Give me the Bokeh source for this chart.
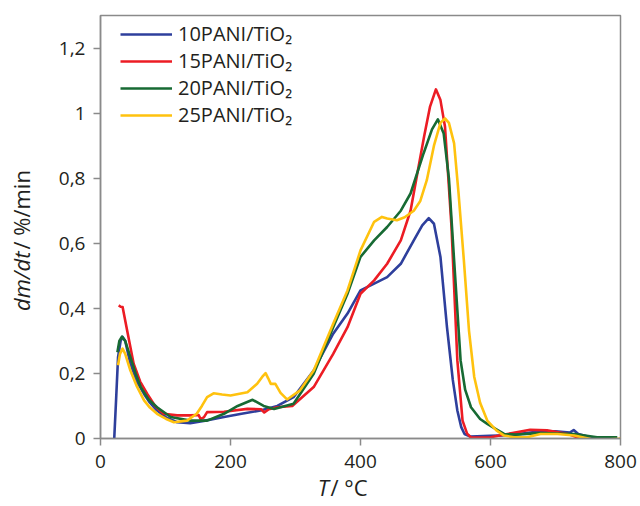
from bokeh.plotting import figure
from bokeh.models import (Range1d, FixedTicker, CustomJSTickFormatter, LinearAxis,
                          Legend, LegendItem)
from bokeh.embed import file_html
from bokeh.resources import INLINE

# ---------------- data ----------------
x_ticks = [0, 200, 400, 600, 800]
y_ticks = [0, 0.2, 0.4, 0.6, 0.8, 1.0, 1.2]

labels = ["10PANI/TiO\u2082", "15PANI/TiO\u2082", "20PANI/TiO\u2082", "25PANI/TiO\u2082"]

T_10 = [21, 24, 27, 31, 34, 38, 46, 56, 67, 76, 87, 101, 118, 138, 161, 190, 217, 246,
        272, 297, 328, 358, 380, 400, 421, 441, 462, 482, 495, 505, 513, 523, 533, 542,
        549, 555, 560, 569, 599, 626, 649, 677, 700, 722, 728, 735, 754, 775, 790, 800]
v_10 = [-0.006, 0.12, 0.25, 0.30, 0.312, 0.30, 0.23, 0.175, 0.137, 0.11, 0.086, 0.065,
        0.05, 0.047, 0.055, 0.066, 0.076, 0.086, 0.10, 0.127, 0.209, 0.322, 0.384, 0.455,
        0.476, 0.496, 0.537, 0.609, 0.655, 0.677, 0.66, 0.558, 0.343, 0.18, 0.086, 0.035,
        0.014, 0.006, 0.008, 0.01, 0.015, 0.022, 0.022, 0.018, 0.026, 0.014, 0.004, 0.0,
        -0.006, -0.004]

T_15 = [28, 31, 34, 41, 51, 61, 72, 84, 97, 118, 138, 151, 154, 159, 164, 190, 226, 247,
        252, 259, 272, 295, 328, 358, 380, 400, 421, 441, 462, 477, 487, 498, 507, 516,
        523, 530, 540, 549, 557, 564, 570, 600, 626, 661, 687, 719, 739, 769, 790, 800]
v_15 = [0.409, 0.405, 0.404, 0.332, 0.23, 0.175, 0.137, 0.10, 0.076, 0.071, 0.071, 0.072,
        0.06, 0.065, 0.081, 0.082, 0.091, 0.09, 0.08, 0.09, 0.096, 0.10, 0.158, 0.26,
        0.342, 0.445, 0.486, 0.537, 0.609, 0.70, 0.81, 0.93, 1.02, 1.073, 1.04, 0.958,
        0.65, 0.24, 0.055, 0.015, 0.003, 0.004, 0.014, 0.027, 0.025, 0.014, 0.0, -0.011,
        -0.006, -0.004]

T_20 = [26, 29, 33, 38, 46, 54, 62, 74, 87, 108, 138, 164, 190, 211, 234, 242, 251, 267,
        297, 328, 358, 380, 400, 421, 441, 462, 477, 497, 510, 519, 528, 536, 544, 554,
        561, 570, 584, 595, 609, 621, 639, 677, 729, 764, 795]
v_20 = [0.265, 0.30, 0.313, 0.30, 0.25, 0.20, 0.158, 0.12, 0.096, 0.066, 0.055, 0.055,
        0.076, 0.10, 0.119, 0.11, 0.10, 0.091, 0.107, 0.199, 0.342, 0.445, 0.558, 0.609,
        0.65, 0.70, 0.753, 0.876, 0.95, 0.981, 0.937, 0.80, 0.548, 0.24, 0.15, 0.096,
        0.06, 0.045, 0.028, 0.014, 0.012, 0.017, 0.014, 0.004, 0.004]

T_25 = [27, 30, 34, 38, 46, 56, 67, 76, 87, 101, 113, 133, 148, 156, 164, 174, 187, 200,
        226, 241, 249, 254, 258, 262, 269, 277, 287, 307, 328, 358, 380, 400, 421, 433,
        441, 456, 468, 482, 492, 502, 513, 523, 530, 536, 544, 551, 559, 567, 575, 584,
        595, 609, 621, 636, 656, 677, 703, 729, 759, 795, 800]
v_25 = [0.225, 0.26, 0.276, 0.26, 0.209, 0.16, 0.117, 0.095, 0.076, 0.06, 0.05, 0.055,
        0.076, 0.10, 0.127, 0.139, 0.135, 0.132, 0.142, 0.168, 0.19, 0.201, 0.185, 0.168,
        0.168, 0.14, 0.12, 0.148, 0.209, 0.353, 0.455, 0.578, 0.666, 0.681, 0.676, 0.671,
        0.68, 0.70, 0.73, 0.794, 0.90, 0.97, 0.984, 0.97, 0.907, 0.75, 0.548, 0.33, 0.189,
        0.11, 0.055, 0.025, 0.009, 0.004, 0.004, 0.014, 0.014, 0.009, -0.004, -0.002, 0.0]

colors = ["#2e3f9c", "#ec1c24", "#176a33", "#ffc20e"]

# ---------------- figure ----------------
FONT = "Open Sans"
GRAY = "#8a8a8a"
TXT = "#231f20"
NB = "\u00a0"

p = figure(frame_width=520, frame_height=423, output_backend="svg", toolbar_location=None,
           x_range=Range1d(0, 800), y_range=Range1d(0, 1.3),
           min_border_left=100, min_border_right=20, min_border_top=15, min_border_bottom=68)
p.grid.visible = False
p.outline_line_color = GRAY
p.outline_line_width = 1.5
p.background_fill_color = "white"
p.border_fill_color = "white"

for ax in (p.xaxis[0], p.yaxis[0]):
    ax.axis_line_color = GRAY
    ax.axis_line_width = 1.5
    ax.major_tick_line_color = GRAY
    ax.major_tick_line_width = 1.5
    ax.major_tick_in = 0
    ax.major_tick_out = 7
    ax.minor_tick_line_color = None
    ax.major_label_text_font = FONT
    ax.major_label_text_font_size = "19px"
    ax.major_label_text_color = TXT

p.xaxis.major_label_standoff = 9
p.yaxis.major_label_standoff = 8
p.xaxis.ticker = FixedTicker(ticks=x_ticks)
p.yaxis.ticker = FixedTicker(ticks=y_ticks)
p.yaxis.formatter = CustomJSTickFormatter(
    code="return tick.toFixed(1).replace('.', ',').replace(',0', '');")


def title_axis(text, style, standoff):
    return LinearAxis(ticker=FixedTicker(ticks=[]), axis_label=text,
                      axis_line_color=None, major_tick_line_color=None,
                      minor_tick_line_color=None, major_tick_out=0, major_tick_in=0,
                      major_label_standoff=0, axis_label_standoff=standoff,
                      axis_label_text_font=FONT, axis_label_text_font_size="22px",
                      axis_label_text_font_style=style, axis_label_text_color=TXT)


# y title: italic "dm/dt" + upright "/ %/min", sharing one column
p.add_layout(title_axis("dm/dt" + NB * 19, "italic", 20), "left")
p.add_layout(title_axis(NB * 6 + "/" + NB + "%/min", "normal", -33), "left")
# x title: italic "T" + upright "/ °C", sharing one row
p.add_layout(title_axis("T" + NB * 13, "italic", 1), "below")
p.add_layout(title_axis("/" + NB + "\u00b0C" + NB * 4, "normal", -33), "below")

series = [(T_10, v_10), (T_15, v_15), (T_20, v_20), (T_25, v_25)]
items = []
for (T, v), c, lab in zip(series, colors, labels):
    r = p.line(T, v, line_color=c, line_width=2.6, line_join="round")
    items.append(LegendItem(label=lab, renderers=[r]))

legend = Legend(items=items, location=(20, 310), padding=0, spacing=0, margin=0,
                glyph_width=52, glyph_height=26, label_height=26, label_standoff=6,
                label_text_font=FONT, label_text_font_size="20px",
                label_text_color=TXT, border_line_color=None,
                background_fill_alpha=0)
p.add_layout(legend)

open("out.html", "w").write(file_html(p, INLINE))
